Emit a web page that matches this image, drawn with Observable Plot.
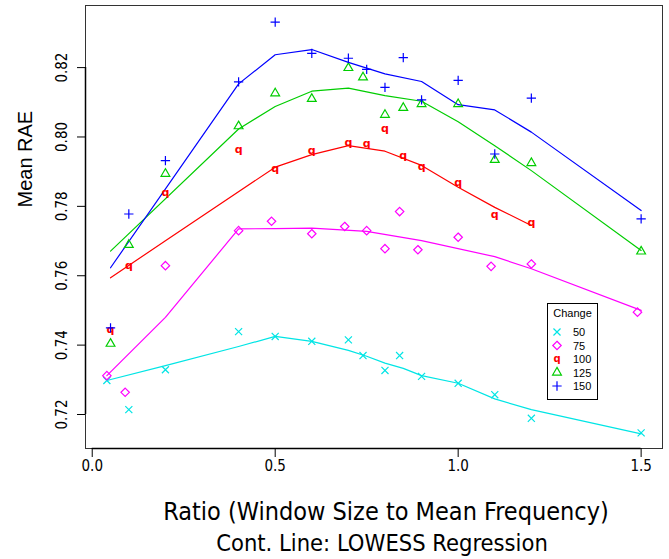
<!DOCTYPE html>
<html><head><meta charset="utf-8">
<script src="https://cdn.jsdelivr.net/npm/d3@7"></script>
<script src="https://cdn.jsdelivr.net/npm/@observablehq/plot@0.6"></script>
<style>
body{margin:0;background:#fff;}
#wrap{position:relative;width:669px;height:559px;}
#legend{position:absolute;left:547px;top:303px;}
</style></head><body><div id="wrap"></div>
<script>
// categories
const changes = ["50", "75", "100", "125", "150"];
const colors = ["#00E5E5", "#FF00FF", "#FF0000", "#00CD00", "#0000FF"];
// tick labels
const xTicks = [0, 0.5, 1.0, 1.5];
const yTicks = [0.72, 0.74, 0.76, 0.78, 0.80, 0.82];

// observed points
const x50 = [0.04,0.1,0.2,0.4,0.5,0.6,0.7,0.74,0.8,0.84,0.9,1.0,1.1,1.2,1.5];
const y50 = [0.7298,0.7214,0.7329,0.7439,0.7425,0.7411,0.7415,0.7370,0.7327,0.7370,0.7310,0.7290,0.7257,0.7189,0.7147];
const x75 = [0.04,0.09,0.2,0.4,0.49,0.6,0.69,0.75,0.8,0.84,0.89,1.0,1.09,1.2,1.49];
const y75 = [0.7312,0.7264,0.7629,0.7730,0.7757,0.7721,0.7742,0.7730,0.7678,0.7785,0.7675,0.7711,0.7627,0.7634,0.7495];
const x100 = [0.05,0.1,0.2,0.4,0.5,0.6,0.7,0.75,0.8,0.85,0.9,1.0,1.1,1.2];
const y100 = [0.7442,0.7627,0.7836,0.7961,0.7905,0.7959,0.7980,0.7978,0.8023,0.7944,0.7913,0.7865,0.7773,0.7750];
const x125 = [0.05,0.1,0.2,0.4,0.5,0.6,0.7,0.74,0.8,0.85,0.9,1.0,1.1,1.2,1.5];
const y125 = [0.7404,0.7689,0.7894,0.8031,0.8126,0.8110,0.8199,0.8172,0.8064,0.8084,0.8095,0.8095,0.7934,0.7925,0.7670];
const x150 = [0.05,0.1,0.2,0.4,0.5,0.6,0.7,0.75,0.8,0.85,0.9,1.0,1.1,1.2,1.5];
const y150 = [0.7450,0.7778,0.7932,0.8159,0.8331,0.8241,0.8227,0.8195,0.8143,0.8229,0.8107,0.8163,0.7951,0.8112,0.7764];

// LOWESS curves
const lx50 = [0.04,0.2,0.4,0.5,0.6,0.7,0.75,0.8,0.85,0.9,1.0,1.1,1.2,1.5];
const ly50 = [0.7298,0.7341,0.7396,0.7425,0.7411,0.7385,0.7368,0.7348,0.7333,0.7312,0.7290,0.7245,0.7214,0.7144];
const lx75 = [0.04,0.2,0.4,0.5,0.6,0.75,0.9,1.1,1.2,1.5];
const ly75 = [0.7312,0.7480,0.7735,0.7736,0.7737,0.7728,0.7701,0.7655,0.7620,0.7500];
const lx100 = [0.05,0.2,0.5,0.6,0.7,0.8,0.9,1.0,1.1,1.2];
const ly100 = [0.7594,0.7701,0.7913,0.7949,0.7975,0.7959,0.7918,0.7855,0.7797,0.7745];
const lx125 = [0.05,0.4,0.5,0.6,0.7,0.8,0.9,1.0,1.1,1.2,1.5];
const ly125 = [0.7671,0.8023,0.8088,0.8132,0.8141,0.8119,0.8103,0.8044,0.7975,0.7903,0.7673];
const lx150 = [0.05,0.4,0.5,0.6,0.7,0.8,0.9,1.0,1.1,1.2,1.5];
const ly150 = [0.7623,0.8153,0.8237,0.8252,0.8215,0.8182,0.8160,0.8093,0.8078,0.8014,0.7788];

const pts = [[x50,y50],[x75,y75],[x100,y100],[x125,y125],[x150,y150]]
  .map(([xs,ys]) => xs.map((x,i) => ({x, y: ys[i]})));
const curves = [[lx50,ly50],[lx75,ly75],[lx100,ly100],[lx125,ly125],[lx150,ly150]]
  .map(([xs,ys]) => xs.map((x,i) => ({x, y: ys[i]})));

const xDomain = [-0.0184, 1.5584];
const yDomain = [0.7102, 0.8379];
const cond = "DejaVu Sans Condensed, DejaVu Sans, sans-serif";
const sans = "Liberation Sans, Arial, sans-serif";

const symbolSpec = [
  {symbol: "times", r: 3.3},
  {symbol: "diamond2", r: 3.8},
  null,
  {symbol: "triangle2", r: 4.2},
  {symbol: "plus", r: 3.1}
];

const marks = [
  Plot.frame({stroke: "#333", strokeWidth: 1}),
  Plot.ruleY([yDomain[0]], {x1: xTicks[0], x2: xTicks[xTicks.length-1], stroke: "#000", strokeWidth: 1.5}),
  Plot.ruleX([xDomain[0]], {y1: yTicks[0], y2: yTicks[yTicks.length-1], stroke: "#000", strokeWidth: 1.5}),
  Plot.axisX({ticks: xTicks, tickSize: 9, tickFormat: () => "", label: null, stroke: "#000"}),
  Plot.axisY({ticks: yTicks, tickSize: 8, tickFormat: () => "", label: null, stroke: "#000"}),
  Plot.text(xTicks, {x: d => d, text: d => d3.format(".1f")(d), frameAnchor: "bottom", dy: 18,
    lineAnchor: "middle", fontSize: 15, fontFamily: cond, fill: "#000"}),
  Plot.text(yTicks, {y: d => d, text: d => d3.format(".2f")(d), frameAnchor: "left", dx: -23,
    rotate: -90, lineAnchor: "middle", textAnchor: "middle", fontSize: 15, fontFamily: cond, fill: "#000"}),
  Plot.text(["Ratio (Window Size to Mean Frequency)"], {frameAnchor: "bottom", dy: 63, dx: 12,
    lineAnchor: "middle", fontSize: 25, fontFamily: cond, fill: "#000"}),
  Plot.text(["Cont. Line: LOWESS Regression"], {frameAnchor: "bottom", dy: 95, dx: 8,
    lineAnchor: "middle", fontSize: 23.5, fontFamily: cond, fill: "#000"}),
  Plot.text(["Mean RAE"], {frameAnchor: "left", dx: -60, dy: -19.5, rotate: -90,
    lineAnchor: "middle", fontSize: 20, fontFamily: sans, fill: "#000"})
];

curves.forEach((c, i) => {
  marks.push(Plot.line(c, {x: "x", y: "y", stroke: colors[i], strokeWidth: 1.2}));
});
pts.forEach((p, i) => {
  if (symbolSpec[i]) {
    marks.push(Plot.dot(p, {x: "x", y: "y", symbol: symbolSpec[i].symbol, r: symbolSpec[i].r,
      stroke: colors[i], strokeWidth: 1.2, fill: "none"}));
  } else {
    marks.push(Plot.text(p, {x: "x", y: "y", text: () => "q", fill: colors[i], fontWeight: "bold",
      fontSize: 11, fontFamily: "DejaVu Sans", lineAnchor: "middle", dy: -1}));
  }
});

const chart = Plot.plot({
  width: 669, height: 559,
  marginLeft: 85, marginRight: 7, marginTop: 5, marginBottom: 111,
  x: {domain: xDomain, axis: null},
  y: {domain: yDomain, axis: null},
  style: {background: "#fff", fontFamily: sans},
  marks
});
const wrap = document.getElementById("wrap");
wrap.appendChild(chart);

// legend
const lg = d3.select(wrap).append("svg").attr("id", "legend")
  .attr("width", 51).attr("height", 97);
lg.append("rect").attr("x", 0.5).attr("y", 0.5).attr("width", 50).attr("height", 96)
  .attr("fill", "#fff").attr("stroke", "#000");
lg.append("text").attr("x", 25.5).attr("y", 10).attr("text-anchor", "middle")
  .attr("dominant-baseline", "central").attr("font-family", sans).attr("font-size", 11)
  .text("Change");
const d3sym = {times: d3.symbolTimes, diamond2: d3.symbolDiamond2, triangle2: d3.symbolTriangle2, plus: d3.symbolPlus};
changes.forEach((c, i) => {
  const yy = 29 + i * 13.5;
  const g = lg.append("g").attr("transform", `translate(10,${yy})`);
  if (symbolSpec[i]) {
    g.append("path").attr("d", d3.symbol(d3sym[symbolSpec[i].symbol], Math.PI * symbolSpec[i].r ** 2)())
      .attr("fill", "none").attr("stroke", colors[i]).attr("stroke-width", 1.2);
  } else {
    g.append("text").attr("text-anchor", "middle").attr("dominant-baseline", "central")
      .attr("font-family", "DejaVu Sans").attr("font-weight", "bold").attr("font-size", 10)
      .attr("fill", colors[i]).attr("y", -1).text("q");
  }
  lg.append("text").attr("x", 26).attr("y", yy).attr("dominant-baseline", "central")
    .attr("font-family", sans).attr("font-size", 11).text(c);
});
</script></body></html>
